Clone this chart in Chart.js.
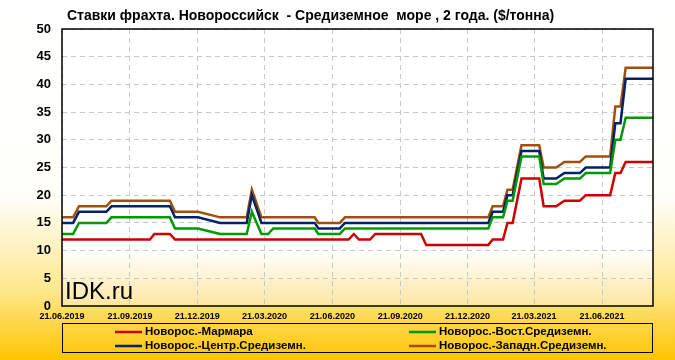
<!DOCTYPE html>
<html>
<head>
<meta charset="utf-8">
<script src="https://cdn.jsdelivr.net/npm/chart.js@4"></script>
<style>
body { margin: 0; }
</style>
</head>
<body>
<canvas id="freightChart" width="675" height="360"></canvas>
<script>
// x = days since 21.06.2019
let tickDays = [0, 92, 183, 274, 366, 458, 549, 639, 731];
let tickLabels = ["21.06.2019", "21.09.2019", "21.12.2019", "21.03.2020", "21.06.2020",
                  "21.09.2020", "21.12.2020", "21.03.2021", "21.06.2021"];

let seriesNames = ["Новорос.-Мармара", "Новорос.-Вост.Средиземн.",
                   "Новорос.-Центр.Средиземн.", "Новорос.-Западн.Средиземн."];
let seriesColors = ["#cc0000", "#009900", "#002266", "#a0500a"];

let marmara = [[0,12],[119,12],[125,13],[146,13],[153,12],[388,12],[395,13],[402,12],[417,12],
  [424,13],[486,13],[493,11],[577,11],[583,12],[597,12],[603,15],[610,15],[622,23],[646,23],
  [652,18],[669,18],[680,19],[701,19],[709,20],[742,20],[749,24],[756,24],[763,26],[800,26]];

let eastMed = [[0,13],[15,13],[23,15],[60,15],[67,16],[146,16],[153,14],[184,14],[214,13],
  [250,13],[257,17],[270,13],[279,13],[286,14],[342,14],[347,13],[376,13],[383,14],[577,14],
  [583,16],[597,16],[603,19],[610,19],[622,27],[646,27],[652,22],[669,22],[680,23],[701,23],
  [709,24],[742,24],[749,30],[756,30],[763,34],[800,34]];

let centralMed = [[0,15],[15,15],[23,17],[60,17],[67,18],[146,18],[153,16],[184,16],[214,15],
  [250,15],[257,20],[270,15],[342,15],[347,14],[376,14],[383,15],[577,15],[583,17],[597,17],
  [603,20],[610,20],[622,28],[646,28],[652,23],[669,23],[680,24],[701,24],[709,25],[742,25],
  [749,33],[756,33],[763,41],[800,41]];

let westMed = [[0,16],[15,16],[23,18],[60,18],[67,19],[146,19],[153,17],[184,17],[214,16],
  [250,16],[257,21],[270,16],[342,16],[347,15],[376,15],[383,16],[577,16],[583,18],[597,18],
  [603,21],[610,21],[622,29],[646,29],[652,25],[669,25],[680,26],[701,26],[709,27],[742,27],
  [749,36],[756,36],[763,43],[800,43]];

let allSeries = [marmara, eastMed, centralMed, westMed];

const decor = {
    id: 'decor',
    beforeDraw(chart) {
        const ctx = chart.ctx;
        const a = chart.chartArea;
        let bg = ctx.createLinearGradient(0, 0, 0, chart.height);
        bg.addColorStop(0, '#ffffff');
        bg.addColorStop(0.55, '#fffef8');
        bg.addColorStop(0.8, '#ffe890');
        bg.addColorStop(1, '#ffc400');
        ctx.save();
        ctx.fillStyle = bg;
        ctx.fillRect(0, 0, chart.width, chart.height);
        let pg = ctx.createLinearGradient(0, a.top, 0, a.bottom);
        pg.addColorStop(0, '#ffffff');
        pg.addColorStop(0.8, '#ffffff');
        pg.addColorStop(1, '#fde6a0');
        ctx.fillStyle = pg;
        ctx.fillRect(a.left, a.top, a.right - a.left, a.bottom - a.top);
        ctx.restore();
    },
    afterDraw(chart) {
        const ctx = chart.ctx;
        const a = chart.chartArea;
        ctx.save();
        ctx.strokeStyle = '#000';
        ctx.lineWidth = 1.5;
        ctx.strokeRect(a.left, a.top, a.right - a.left, a.bottom - a.top);

        ctx.fillStyle = '#000';
        ctx.textBaseline = 'middle';
        ctx.textAlign = 'left';
        ctx.font = 'bold 14px "Liberation Sans"';
        ctx.fillText('Ставки фрахта. Новороссийск  - Средиземное  море , 2 года. ($/тонна)', 67, 16);

        ctx.font = '24px "Liberation Sans"';
        ctx.fillText('IDK.ru', 65, 292);

        // legend box
        ctx.lineWidth = 1;
        ctx.strokeRect(62.5, 323.5, 590, 29);
        ctx.font = 'bold 11.5px "Liberation Sans"';
        let pos = [[115, 332], [409, 332], [115, 346], [409, 346]];
        for (let i = 0; i < 4; i++) {
            let [x, y] = pos[i];
            ctx.strokeStyle = seriesColors[i];
            ctx.lineWidth = 2.5;
            ctx.beginPath();
            ctx.moveTo(x, y);
            ctx.lineTo(x + 27, y);
            ctx.stroke();
            ctx.fillText(seriesNames[i], x + 30, y);
        }
        ctx.restore();
    }
};

new Chart(document.getElementById('freightChart'), {
    type: 'line',
    data: {
        datasets: allSeries.map((s, i) => ({
            label: seriesNames[i],
            data: s.map(p => ({x: p[0], y: p[1]})),
            borderColor: seriesColors[i],
            borderWidth: 2.5,
            pointRadius: 0,
            tension: 0,
            fill: false
        }))
    },
    options: {
        responsive: false,
        animation: false,
        layout: { padding: { left: 0, top: 29, right: 22, bottom: 0 } },
        plugins: { legend: { display: false }, tooltip: { enabled: false } },
        scales: {
            x: {
                type: 'linear',
                min: 0,
                max: 800,
                afterBuildTicks: scale => { scale.ticks = tickDays.map(v => ({ value: v })); },
                afterFit: scale => { scale.height = 54; },
                grid: { color: '#c8c8c8', drawTicks: false, lineWidth: 1 },
                border: { display: false, dash: [5, 4] },
                ticks: {
                    autoSkip: false,
                    maxRotation: 0,
                    padding: 5,
                    color: '#000',
                    font: { family: 'Liberation Sans', size: 9, weight: 'bold' },
                    callback: v => tickLabels[tickDays.indexOf(v)]
                }
            },
            y: {
                min: 0,
                max: 50,
                afterFit: scale => { scale.width = 62; },
                grid: { color: '#c8c8c8', drawTicks: false, lineWidth: 1 },
                border: { display: false, dash: [5, 4] },
                ticks: {
                    stepSize: 5,
                    padding: 11,
                    color: '#000',
                    font: { family: 'Liberation Sans', size: 13, weight: 'bold' }
                }
            }
        }
    },
    plugins: [decor]
});
</script>
</body>
</html>
